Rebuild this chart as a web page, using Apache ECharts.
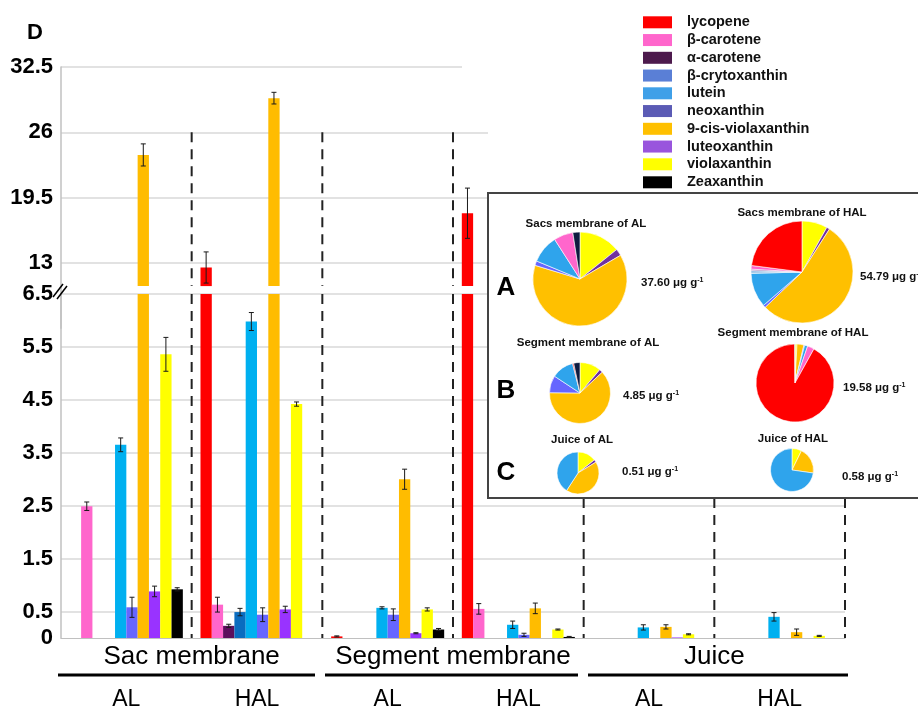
<!DOCTYPE html>
<html>
<head>
<meta charset="utf-8">
<script src="https://cdn.jsdelivr.net/npm/echarts@6/dist/echarts.min.js"></script>
<style>
  html, body { margin: 0; padding: 0; background: #fff; }
  #chart { width: 918px; height: 711px; }
</style>
</head>
<body>
<div id="chart"></div>
<script>
// categories
const groups = ['Sac membrane', 'Segment membrane', 'Juice'];
const subgroups = ['AL', 'HAL'];
const categories = [];
groups.forEach(g => subgroups.forEach(s => categories.push(g + '|' + s)));

const compounds = ['lycopene', 'β-carotene', 'α-carotene', 'β-crytoxanthin', 'lutein',
  'neoxanthin', '9-cis-violaxanthin', 'luteoxanthin', 'violaxanthin', 'Zeaxanthin'];

// values per category (Sac AL, Sac HAL, Seg AL, Seg HAL, Juice AL, Juice HAL)
const lycopene       = [0,     12.55, 0.03, 17.95, 0,    0];
const betaCarotene   = [2.49,  0.63,  0,    0.55,  0,    0];
const alphaCarotene  = [0,     0.23,  0,    0,     0,    0];
const betaCrytox     = [0,     0.49,  0,    0,     0,    0];
const lutein         = [3.65,  5.98,  0.57, 0.25,  0.2,  0.4];
const neoxanthin     = [0.58,  0.44,  0.44, 0.06,  0,    0];
const cisViolax      = [23.75, 29.4,  3.0,  0.56,  0.21, 0.11];
const luteoxanthin   = [0.88,  0.54,  0.09, 0,     0.01, 0];
const violaxanthin   = [5.36,  4.42,  0.54, 0.16,  0.07, 0.04];
const zeaxanthin     = [0.92,  0,     0.16, 0.02,  0,    0];

// error bars (±)
const lycopeneErr      = [0,    1.55, 0.01, 2.5,  0,    0];
const betaCaroteneErr  = [0.08, 0.14, 0,    0.1,  0,    0];
const alphaCaroteneErr = [0,    0.03, 0,    0,    0,    0];
const betaCrytoxErr    = [0,    0.07, 0,    0,    0,    0];
const luteinErr        = [0.13, 0.17, 0.02, 0.07, 0.05, 0.08];
const neoxanthinErr    = [0.19, 0.13, 0.11, 0.03, 0,    0];
const cisViolaxErr     = [1.1,  0.58, 0.19, 0.1,  0.04, 0.06];
const luteoxanthinErr  = [0.1,  0.06, 0.01, 0,    0,    0];
const violaxanthinErr  = [0.32, 0.04, 0.03, 0.01, 0.01, 0.01];
const zeaxanthinErr    = [0.03, 0,    0.02, 0.01, 0,    0];

const values = [lycopene, betaCarotene, alphaCarotene, betaCrytox, lutein,
  neoxanthin, cisViolax, luteoxanthin, violaxanthin, zeaxanthin];
const errors = [lycopeneErr, betaCaroteneErr, alphaCaroteneErr, betaCrytoxErr, luteinErr,
  neoxanthinErr, cisViolaxErr, luteoxanthinErr, violaxanthinErr, zeaxanthinErr];

// tick labels
const lowerTicks = [0, 0.5, 1.5, 2.5, 3.5, 4.5, 5.5, 6.5];
const upperTicks = [13, 19.5, 26, 32.5];

// inset pies
const pieTitles = ['Sacs membrane of AL', 'Sacs membrane of HAL', 'Segment membrane of AL',
  'Segment membrane of HAL', 'Juice of AL', 'Juice of HAL'];
const pieTotals = ['37.60', '54.79', '4.85', '19.58', '0.51', '0.58'];
const pieOrder = [8, 7, 6, 5, 4, 3, 2, 1, 0, 9]; // clockwise from 12 o'clock

// ---- styling / layout ----
const FONT = 'Liberation Sans, Arial, sans-serif';
const BAR_COLORS = ['#ff0000', '#ff66cc', '#5c0f5c', '#0a6cbf', '#00b0f0',
  '#6666ff', '#ffbc00', '#9933ff', '#ffff00', '#000000'];
const LEGEND_COLORS = ['#ff0000', '#ff66cc', '#4d1a4d', '#5a7fd6', '#3fa0e8',
  '#5b5bb5', '#ffc000', '#9955dd', '#ffff00', '#000000'];
const PIE_COLORS = ['#ff0000', '#ff66cc', '#7a3d9a', '#9dc3e6', '#2fa4ec',
  '#6666ff', '#ffc000', '#7030a0', '#ffff00', '#0d1a40'];
const GRID_COLOR = '#d9d9d9';
const AXIS_COLOR = '#c0c0c0';
const CAT_GAP = 0.135;
const BREAK = 10.7;      // where the upper part of the broken axis starts
const SEP_TOP = 26;      // dashed separators start here
const GRID_LEFT = 61, GRID_RIGHT = 73;
const UP_TOP = 67, UP_H = 261.3;
const LOW_TOP = 294, LOW_H = 344.3;

const pieLayout = [
  { c: [580, 279], r: 47, title: [586, 224], total: [641, 283] },
  { c: [802, 272], r: 51, title: [802, 213], total: [860, 277] },
  { c: [580, 393], r: 30.5, title: [588, 343], total: [623, 396] },
  { c: [795, 383], r: 39, title: [793, 333], total: [843, 388] },
  { c: [578, 473], r: 21, title: [582, 440], total: [622, 472] },
  { c: [792, 470], r: 21.5, title: [793, 439], total: [842, 477] }
];

function gridColors(min, max, step, ticks) {
  const out = [];
  for (let v = min; v <= max + 1e-9; v += step) {
    const hit = ticks.some(t => Math.abs(t - v) < 1e-6);
    out.push(hit && v > min + 1e-9 ? GRID_COLOR : 'rgba(0,0,0,0)');
  }
  return out;
}
function tickLabel(ticks) {
  return v => ticks.some(t => Math.abs(t - v) < 1e-6) ? String(v) : '';
}

function errorBarItem(params, api) {
  const j = api.value(0), v = api.value(1), e = api.value(2), k = api.value(3);
  const band = api.size([1, 0])[0];
  const inner = band * (1 - CAT_GAP);
  const barW = inner / compounds.length;
  const cx = api.coord([j, v])[0] - inner / 2 + barW * (k + 0.5);
  const top = api.coord([j, v + e])[1];
  const bot = api.coord([j, v - e])[1];
  const cap = 2.5;
  const st = { stroke: '#1a1a1a', lineWidth: 1 };
  return {
    type: 'group',
    children: [
      { type: 'line', shape: { x1: cx, y1: top, x2: cx, y2: bot }, style: st },
      { type: 'line', shape: { x1: cx - cap, y1: top, x2: cx + cap, y2: top }, style: st },
      { type: 'line', shape: { x1: cx - cap, y1: bot, x2: cx + cap, y2: bot }, style: st }
    ]
  };
}

function separatorItem(fromVal, toVal) {
  return function (params, api) {
    const j = api.value(0);
    const x = api.coord([j, 0])[0] + api.size([1, 0])[0] / 2;
    return {
      type: 'line',
      shape: { x1: x, y1: api.coord([j, toVal])[1], x2: x, y2: api.coord([j, fromVal])[1] },
      style: { stroke: '#222', lineWidth: 2, lineDash: [10, 7] }
    };
  };
}

const lowerErr = [], upperErr = [];
values.forEach((arr, k) => arr.forEach((v, j) => {
  const e = errors[k][j];
  if (!(v > 0) || !(e > 0)) return;
  (v > 6.5 ? upperErr : lowerErr).push([j, v, e, k]);
}));

const series = [];
compounds.forEach((name, k) => {
  series.push({
    type: 'bar', name, xAxisIndex: 1, yAxisIndex: 1,
    data: values[k].map(v => v > 0 ? v : '-'),
    itemStyle: { color: BAR_COLORS[k] },
    barGap: '0%', barCategoryGap: (CAT_GAP * 100) + '%', clip: true
  });
});
compounds.forEach((name, k) => {
  series.push({
    type: 'bar', name: 'base' + k, xAxisIndex: 0, yAxisIndex: 0, stack: 'u' + k, silent: true,
    data: values[k].map(v => v > BREAK ? BREAK : '-'),
    itemStyle: { color: 'rgba(0,0,0,0)' },
    barGap: '0%', barCategoryGap: (CAT_GAP * 100) + '%'
  });
  series.push({
    type: 'bar', name, xAxisIndex: 0, yAxisIndex: 0, stack: 'u' + k,
    data: values[k].map(v => v > BREAK ? v - BREAK : '-'),
    itemStyle: { color: BAR_COLORS[k] },
    barGap: '0%', barCategoryGap: (CAT_GAP * 100) + '%'
  });
});
series.push({
  type: 'custom', xAxisIndex: 1, yAxisIndex: 1, z: 5, clip: false, silent: true,
  encode: { x: 0, y: 1 }, data: lowerErr, renderItem: errorBarItem
});
series.push({
  type: 'custom', xAxisIndex: 0, yAxisIndex: 0, z: 5, clip: false, silent: true,
  encode: { x: 0, y: 1 }, data: upperErr, renderItem: errorBarItem
});
const sepData = categories.map((c, j) => [j, 0]);
series.push({
  type: 'custom', xAxisIndex: 1, yAxisIndex: 1, z: 2, clip: false, silent: true,
  encode: { x: 0, y: 1 }, data: sepData, renderItem: separatorItem(0, 6.5)
});
series.push({
  type: 'custom', xAxisIndex: 0, yAxisIndex: 0, z: 2, clip: false, silent: true,
  encode: { x: 0, y: 1 }, data: sepData, renderItem: separatorItem(BREAK, SEP_TOP)
});

pieLayout.forEach((p, g) => {
  series.push({
    type: 'pie', center: p.c, radius: p.r, startAngle: 90, clockwise: true,
    z: 10, silent: true, label: { show: false }, labelLine: { show: false },
    itemStyle: { borderColor: '#fff', borderWidth: 0.6 },
    data: pieOrder.filter(k => values[k][g] > 0).map(k => ({
      name: compounds[k], value: values[k][g], itemStyle: { color: PIE_COLORS[k] }
    }))
  });
});

const graphics = [
  { type: 'text', left: 27, top: 22, z: 20, style: { text: 'D', font: 'bold 22px ' + FONT, fill: '#000' } },
  // legend / inset backgrounds
  { type: 'rect', shape: { x: 462, y: 0, width: 456, height: 125 }, style: { fill: '#fff' }, z: 3 },
  { type: 'rect', shape: { x: 488, y: 125, width: 430, height: 68 }, style: { fill: '#fff' }, z: 3 },
  { type: 'rect', shape: { x: 488, y: 193, width: 440, height: 305 },
    style: { fill: '#fff', stroke: '#444', lineWidth: 2 }, z: 3 },
  // axis break marks
  { type: 'line', shape: { x1: 53, y1: 297, x2: 63, y2: 284 }, style: { stroke: '#000', lineWidth: 1.5 }, z: 20 },
  { type: 'line', shape: { x1: 57, y1: 299, x2: 67, y2: 286 }, style: { stroke: '#000', lineWidth: 1.5 }, z: 20 },
  // group underlines
  { type: 'line', shape: { x1: 58, y1: 675, x2: 315, y2: 675 }, style: { stroke: '#000', lineWidth: 3 }, z: 20 },
  { type: 'line', shape: { x1: 325, y1: 675, x2: 578, y2: 675 }, style: { stroke: '#000', lineWidth: 3 }, z: 20 },
  { type: 'line', shape: { x1: 588, y1: 675, x2: 848, y2: 675 }, style: { stroke: '#000', lineWidth: 3 }, z: 20 }
];
['A', 'B', 'C'].forEach((t, i) => {
  graphics.push({ type: 'text', z: 20, x: 506, y: [288, 391, 473][i],
    style: { text: t, font: 'bold 26px ' + FONT, fill: '#000', align: 'center', verticalAlign: 'middle' } });
});
pieLayout.forEach((p, g) => {
  graphics.push({ type: 'text', z: 20, x: p.title[0], y: p.title[1],
    style: { text: pieTitles[g], font: 'bold 11.5px ' + FONT, fill: '#111', align: 'center', verticalAlign: 'middle' } });
  graphics.push({ type: 'text', z: 20, x: p.total[0], y: p.total[1],
    style: {
      text: '{a|' + pieTotals[g] + ' μg g}{s|-1}', verticalAlign: 'middle',
      rich: {
        a: { font: 'bold 11.5px ' + FONT, fill: '#111' },
        s: { font: 'bold 7px ' + FONT, fill: '#111', verticalAlign: 'top', padding: [0, 0, 6, 0] }
      }
    } });
});

const legendText = { fontSize: 14.5, fontWeight: 'bold', color: '#111', fontFamily: FONT, padding: [0, 0, 0, 10] };
const legendItems = compounds.map((n, k) => ({ name: n, itemStyle: { color: LEGEND_COLORS[k] } }));

const option = {
  animation: false,
  backgroundColor: '#fff',
  legend: [
    { data: legendItems.slice(0, 9), orient: 'vertical', left: 638, top: 9.8, icon: 'rect',
      itemWidth: 29, itemHeight: 12, itemGap: 2.75, selectedMode: false, textStyle: legendText },
    { data: legendItems.slice(9), orient: 'vertical', left: 638, top: 169.8, icon: 'rect',
      itemWidth: 29, itemHeight: 12, selectedMode: false, textStyle: legendText }
  ],
  grid: [
    { left: GRID_LEFT, right: GRID_RIGHT, top: UP_TOP, height: UP_H },
    { left: GRID_LEFT, right: GRID_RIGHT, top: LOW_TOP, height: LOW_H }
  ],
  xAxis: [
    { type: 'category', gridIndex: 0, data: categories, show: false },
    { type: 'category', gridIndex: 1, data: categories, position: 'bottom', offset: 0,
      axisLine: { lineStyle: { color: AXIS_COLOR, width: 1 } }, axisTick: { show: false },
      axisLabel: { interval: 0, margin: 50, fontSize: 23, color: '#000', fontFamily: FONT,
        formatter: v => v.split('|')[1] } },
    { type: 'category', gridIndex: 1, data: groups, position: 'bottom', offset: 0,
      axisLine: { show: false }, axisTick: { show: false },
      axisLabel: { interval: 0, hideOverlap: false, margin: 6, fontSize: 26, color: '#000', fontFamily: FONT } }
  ],
  yAxis: [
    { type: 'value', gridIndex: 0, min: 6.5, max: 32.5, interval: 6.5,
      axisLine: { show: true, lineStyle: { color: AXIS_COLOR, width: 1.5 } }, axisTick: { show: false },
      axisLabel: { margin: 8, fontSize: 22, fontWeight: 'bold', color: '#000', fontFamily: FONT,
        formatter: tickLabel(upperTicks) },
      splitLine: { lineStyle: { color: gridColors(6.5, 32.5, 6.5, upperTicks), width: 1.5 } } },
    { type: 'value', gridIndex: 1, min: 0, max: 6.5, interval: 0.5,
      axisLine: { show: true, lineStyle: { color: AXIS_COLOR, width: 1.5 } }, axisTick: { show: false },
      axisLabel: { margin: 8, fontSize: 22, fontWeight: 'bold', color: '#000', fontFamily: FONT,
        formatter: tickLabel(lowerTicks) },
      splitLine: { lineStyle: { color: gridColors(0, 6.5, 0.5, lowerTicks), width: 1.5 } } }
  ],
  graphic: { elements: graphics },
  series
};

const chart = echarts.init(document.getElementById('chart'), null, { renderer: 'canvas' });
chart.setOption(option);
</script>
</body>
</html>
